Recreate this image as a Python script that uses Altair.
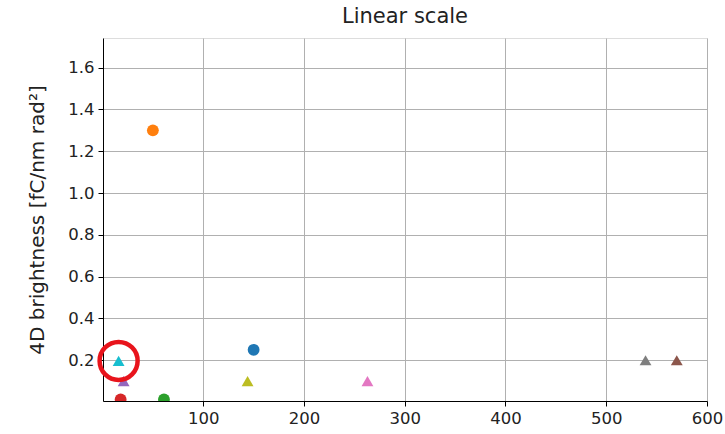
import altair as alt
import pandas as pd

# Values
x_vals = [150, 50, 61, 18, 21, 570, 263, 539, 144, 16]
y_vals = [0.25, 1.30, 0.013, 0.013, 0.10, 0.20, 0.10, 0.20, 0.10, 0.197]
shapes = ["circle", "circle", "circle", "circle",
          "triangle-up", "triangle-up", "triangle-up", "triangle-up", "triangle-up", "triangle-up"]
colors = ["#1f77b4", "#ff7f0e", "#2ca02c", "#d62728", "#9467bd",
          "#8c564b", "#e377c2", "#7f7f7f", "#bcbd22", "#17becf"]
x_ticks = [100, 200, 300, 400, 500, 600]
y_ticks = [0.2, 0.4, 0.6, 0.8, 1.0, 1.2, 1.4, 1.6]
highlight_x = [16]
highlight_y = [0.197]

df = pd.DataFrame({"x": x_vals, "y": y_vals, "shape": shapes, "color": colors,
                   "id": list(range(len(x_vals)))})
hl = pd.DataFrame({"x": highlight_x, "y": highlight_y})

FONT = "DejaVu Sans"

xs = alt.Scale(domain=[0.5, 600], nice=False, zero=False)
ys = alt.Scale(domain=[0.005, 1.742], nice=False, zero=False)

x_axis = alt.Axis(values=x_ticks, title=None, grid=True, gridColor="#b0b0b0",
                  gridWidth=1, domainColor="black", tickColor="black", tickSize=5,
                  labelFont=FONT, labelFontSize=16.5, labelColor="#222222",
                  labelPadding=4, labelFlush=False)
y_axis = alt.Axis(values=y_ticks, format=".1f", title="4D brightness [fC/nm rad²]",
                  grid=True, gridColor="#b0b0b0", gridWidth=1, domainColor="black",
                  tickColor="black", tickSize=5, labelFont=FONT, labelFontSize=16.5,
                  labelColor="#222222", labelPadding=4, titleFont=FONT,
                  titleFontSize=20, titleFontWeight="normal", titleColor="#222222",
                  titlePadding=20)

points = alt.Chart(df).mark_point(filled=True, opacity=1, size=140, clip=True).encode(
    x=alt.X("x:Q", scale=xs, axis=x_axis),
    y=alt.Y("y:Q", scale=ys, axis=y_axis),
    shape=alt.Shape("shape:N", scale=None, legend=None),
    color=alt.Color("color:N", scale=None, legend=None),
    order=alt.Order("id:Q"),
)

ring = alt.Chart(hl).mark_point(filled=False, shape="circle", size=1444,
                                strokeWidth=4.5, color="#e8141c", opacity=1).encode(
    x=alt.X("x:Q", scale=xs),
    y=alt.Y("y:Q", scale=ys),
)

chart = alt.layer(points, ring).properties(
    width=604, height=363,
    title=alt.TitleParams("Linear scale", font=FONT, fontSize=21,
                          fontWeight="normal", color="#222222", anchor="middle",
                          offset=11),
    autosize=alt.AutoSizeParams(type="none"),
    padding={"left": 103, "top": 38, "right": 18, "bottom": 33},
).configure_view(stroke="black", strokeWidth=1.2).configure(background="white")

chart.save("out.html", embed_options={"renderer": "svg", "actions": False})
